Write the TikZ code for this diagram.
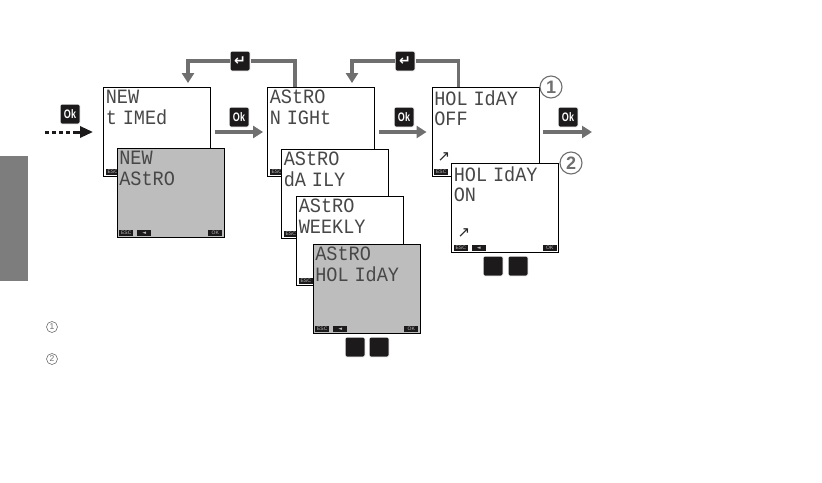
\documentclass[tikz,border=0pt]{standalone}
\usepackage{fontspec}
\setmainfont{Liberation Sans}
\newfontfamily\lcdfont{Liberation Mono}
\newfontfamily\symbolfont{DejaVu Sans}
\usetikzlibrary{arrows.meta, positioning}
\definecolor{keyblack}{HTML}{1C1A1B}
\definecolor{flowgray}{HTML}{6F6F6F}
\definecolor{lcdgray}{HTML}{BDBDBD}
\newcommand{\okmark}{\scalebox{0.82}[1.12]{Ok}}
\newcommand{\lcdgap}{\hspace{-5pt}}
\tikzset{
    screen box/.style={draw=black, fill=white, line width=0.9pt, minimum width=107pt, minimum height=89pt, inner sep=0pt},
    active box/.style={screen box, fill=lcdgray},
    lcd text/.style={font=\lcdfont\fontsize{18}{18}\selectfont, text=black!72, align=left, inner sep=0pt, anchor=north west, xscale=1.03, yscale=1.13, transform shape},
    soft key/.style={fill=keyblack, text=white!75!black, font=\fontsize{5}{5}\selectfont, inner sep=0pt, minimum width=14pt, minimum height=6.5pt},
    ok key/.style={fill=keyblack, draw=white, line width=1pt, rounded corners=1.5pt, text=white, font=\bfseries\fontsize{11}{11}\selectfont, inner sep=0pt, minimum size=20pt},
    enter key/.style={ok key, font=\symbolfont\bfseries\fontsize{14}{14}\selectfont},
    flow arrow/.style={-{Triangle[length=10pt, width=12pt]}, draw=flowgray, line width=3.2pt},
    flow connector/.style={draw=flowgray, line width=3.2pt},
    entry arrow/.style={-{Triangle[length=13pt, width=11pt]}, draw=keyblack, line width=3pt},
    big mark/.style={circle, draw=flowgray, fill=white, line width=1.1pt, minimum size=22pt, inner sep=0pt, text=flowgray, font=\bfseries\fontsize{18}{18}\selectfont},
    small mark/.style={circle, draw=flowgray, line width=0.6pt, minimum size=11pt, inner sep=0pt, text=flowgray, font=\fontsize{8.5}{8.5}\selectfont},
    tool icon/.style={font=\symbolfont\fontsize{15}{15}\selectfont, text=black!85, inner sep=0pt},
}

\begin{document}
\begin{tikzpicture}[x=1pt, y=-1pt]

    \useasboundingbox (0,0) rectangle (822,482);

    % Side tab
    \fill[flowgray!90!white] (0,156) rectangle (28,281);

    % Screens, first column
    \node[screen box] (timed) at (157,132) {};
    \node[lcd text, below right=3pt and 2.5pt of timed.north west] (timedtext) {NEW\\t \lcdgap IMEd};
    \node[soft key, above right=1.5pt and 2.5pt of timed.south west] (timedesc) {ESC};
    \node[active box] (newastro) at (170.5,193) {};
    \node[lcd text, below right=3pt and 2.5pt of newastro.north west] (newastrotext) {NEW\\AStRO};
    \node[soft key, above right=1.5pt and 2.5pt of newastro.south west] (newastroesc) {ESC};
    \node[soft key, above right=1.5pt and 20.5pt of newastro.south west] (newastroback) {\symbolfont◄};
    \node[soft key, above left=1.5pt and 2pt of newastro.south east] (newastrook) {OK};

    % Screens, second column
    \node[screen box] (night) at (321,132) {};
    \node[lcd text, below right=3pt and 2.5pt of night.north west] (nighttext) {AStRO\\N \lcdgap IGHt};
    \node[soft key, above right=1.5pt and 2.5pt of night.south west] (nightesc) {ESC};
    \node[screen box] (daily) at (335,194) {};
    \node[lcd text, below right=3pt and 2.5pt of daily.north west] (dailytext) {AStRO\\dA \lcdgap ILY};
    \node[soft key, above right=1.5pt and 2.5pt of daily.south west] (dailyesc) {ESC};
    \node[screen box] (weekly) at (350,241) {};
    \node[lcd text, below right=3pt and 2.5pt of weekly.north west] (weeklytext) {AStRO\\WEEKLY};
    \node[soft key, above right=1.5pt and 2.5pt of weekly.south west] (weeklyesc) {ESC};
    \node[active box] (holiday) at (366.5,289) {};
    \node[lcd text, below right=3pt and 2.5pt of holiday.north west] (holidaytext) {AStRO\\HOL \lcdgap IdAY};
    \node[soft key, above right=1.5pt and 2.5pt of holiday.south west] (holidayesc) {ESC};
    \node[soft key, above right=1.5pt and 20.5pt of holiday.south west] (holidayback) {\symbolfont◄};
    \node[soft key, above left=1.5pt and 2pt of holiday.south east] (holidayok) {OK};

    % Screens, third column
    \node[screen box] (off) at (485.5,132) {};
    \node[lcd text, below right=3pt and 2.5pt of off.north west] (offtext) {HOL \lcdgap IdAY\\OFF};
    \node[tool icon] (officon) at (444,157) {↗};
    \node[soft key, above right=1.5pt and 2.5pt of off.south west] (offesc) {ESC};
    \node[screen box] (on) at (505,208) {};
    \node[lcd text, below right=3pt and 2.5pt of on.north west] (ontext) {HOL \lcdgap IdAY\\ON};
    \node[tool icon] (onicon) at (464,233) {↗};
    \node[soft key, above right=1.5pt and 2.5pt of on.south west] (onesc) {ESC};
    \node[soft key, above right=1.5pt and 20.5pt of on.south west] (onback) {\symbolfont◄};
    \node[soft key, above left=1.5pt and 2pt of on.south east] (onok) {OK};

    % Keys
    \node[ok key] (okone) at (70,114) {\okmark};
    \node[ok key] (oktwo) at (239,117) {\okmark};
    \node[ok key] (okthree) at (404,117) {\okmark};
    \node[ok key] (okfour) at (568,117) {\okmark};
    \node[enter key] (enterone) at (240,61) {↵};
    \node[enter key] (entertwo) at (405,61) {↵};
    \node[ok key] (blankone) at (355,347) {};
    \node[ok key] (blanktwo) at (379,347) {};
    \node[ok key] (blankthree) at (493,266) {};
    \node[ok key] (blankfour) at (518,266) {};

    % Loose ends
    \coordinate (entrystart) at (45,132);
    \coordinate (entrymid) at (75,132);
    \coordinate (exitend) at (592,132);

    % Arrows
    \draw[draw=keyblack, line width=3pt, dash pattern=on 3.5pt off 3.5pt] (entrystart) -- (entrymid);
    \draw[entry arrow, shorten >=10pt] (entrymid) -- (timed.west);
    \draw[flow arrow, shorten <=4pt, shorten >=4pt] (timed.east) -- (night.west);
    \draw[flow arrow, shorten <=4pt, shorten >=5pt] (night.east) -- (off.west);
    \draw[flow arrow, shorten <=4pt] (off.east) -- (exitend);
    \draw[flow connector] ([xshift=-26pt]night.north) |- (enterone.east);
    \draw[flow arrow, shorten >=4pt] (enterone.west) -| ([xshift=31pt]timed.north);
    \draw[flow connector] ([xshift=-27pt]off.north) |- (entertwo.east);
    \draw[flow arrow, shorten >=4pt] (entertwo.west) -| ([xshift=31pt]night.north);

    % Notes
    \node[big mark] (markone) at (551,87) {1};
    \node[big mark] (marktwo) at (571,163) {2};
    \node[small mark] (noteone) at (52,327) {1};
    \node[small mark] (notetwo) at (52,359) {2};

\end{tikzpicture}
\end{document}
